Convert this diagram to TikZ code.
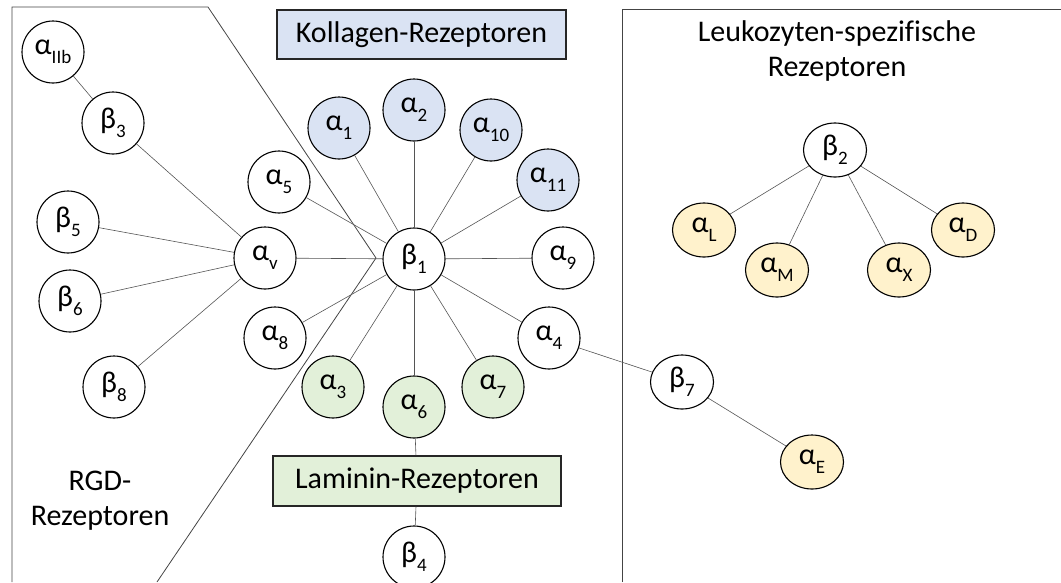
\documentclass[tikz,border=0pt]{standalone}
\usepackage{fontspec}
\setmainfont[Ligatures=NoCommon]{Carlito}
\usetikzlibrary{shapes.geometric}
\definecolor{kblue}{HTML}{DAE3F3}
\definecolor{lgreen}{HTML}{E2F0D9}
\definecolor{lyellow}{HTML}{FFF2CC}
\definecolor{edgec}{HTML}{555555}
\newcommand\lw[1]{\raisebox{-0.65ex}{\fontsize{19}{19}\selectfont #1}}
\begin{document}
\begin{tikzpicture}[x=1pt,y=-1pt,
  rc/.style={circle,draw=black,line width=1.1pt,minimum size=62pt,inner sep=0pt,fill=white,font=\fontsize{30}{30}\selectfont},
  re/.style={ellipse,draw=black,line width=1.1pt,minimum width=63pt,minimum height=54pt,inner sep=0pt,fill=white,font=\fontsize{30}{30}\selectfont},
  bl/.style={fill=kblue},
  gr/.style={fill=lgreen},
  ye/.style={fill=lyellow},
  ed/.style={draw=edgec,line width=0.6pt},
  bnd/.style={draw=edgec!80!black,line width=0.8pt},
  lbox/.style={draw=black!85,line width=1.2pt,inner sep=0pt,font=\fontsize{30}{30}\selectfont},
  ttl/.style={font=\fontsize{30}{35}\selectfont,align=center}]
\useasboundingbox (0,0) rectangle (1061,582);
\clip (0,0) rectangle (1061,582);
% region boundaries
\coordinate (p1) at (12,582);
\coordinate (p2) at (12,7);
\coordinate (p3) at (208,7);
\coordinate (p4) at (376,258);
\coordinate (p5) at (157,582);
\draw[bnd] (p1) -- (p2) -- (p3) -- (p4) -- (p5);
\coordinate (q1) at (622,582);
\coordinate (q2) at (622,9);
\coordinate (q3) at (1061,9);
\draw[bnd] (q1) -- (q2) -- (q3);
% boxes
\node[lbox,fill=kblue,minimum width=289pt,minimum height=49pt] (kol) at (421.5,34.5) {Kollagen-Rezeptoren};
% nodes
\node[rc] (b1) at (414,259) {β\lw{1}};
\node[rc] (aIIb) at (53,52) {α\lw{IIb}};
\node[rc] (b3) at (113,123) {β\lw{3}};
\node[rc] (b5) at (68,222) {β\lw{5}};
\node[rc] (av) at (265,258) {α\lw{v}};
\node[rc] (b6) at (70,301) {β\lw{6}};
\node[rc] (b8) at (114,387) {β\lw{8}};
\node[rc] (a5) at (279,182) {α\lw{5}};
\node[rc,bl] (a1) at (339,128) {α\lw{1}};
\node[rc,bl] (a2) at (414,110) {α\lw{2}};
\node[rc,bl] (a10) at (491,130) {α\lw{10}};
\node[rc,bl] (a11) at (548,180) {α\lw{11}};
\node[rc] (a9) at (563,258) {α\lw{9}};
\node[rc] (a4) at (549,338) {α\lw{4}};
\node[rc,gr] (a7) at (493,387) {α\lw{7}};
\node[rc,gr] (a6) at (414,407) {α\lw{6}};
\node[rc,gr] (a3) at (333,387) {α\lw{3}};
\node[rc] (a8) at (275,338) {α\lw{8}};
\node[rc] (b4) at (414,557) {β\lw{4}};
\node[lbox,fill=lgreen,minimum width=288pt,minimum height=50pt] (lam) at (417,481) {Laminin-Rezeptoren};
\node[re] (b2) at (835,150) {β\lw{2}};
\node[re,ye] (aL) at (704,230) {α\lw{L}};
\node[re,ye] (aM) at (777,270) {α\lw{M}};
\node[re,ye] (aX) at (899,270) {α\lw{X}};
\node[re,ye] (aD) at (963,230) {α\lw{D}};
\node[re] (b7) at (682,382) {β\lw{7}};
\node[re,ye] (aE) at (812,462) {α\lw{E}};
% labels
\node[ttl] (leu) at (837,51) {Leukozyten-spezifische\\Rezeptoren};
\node[ttl] (rgd) at (100,501) {RGD-\\Rezeptoren};
% edges
\draw[ed] (aIIb) -- (b3);
\draw[ed] (b3) -- (av);
\draw[ed] (b5) -- (av);
\draw[ed] (b6) -- (av);
\draw[ed] (b8) -- (av);
\draw[ed] (av) -- (b1);
\foreach \n in {a5,a1,a2,a10,a11,a9,a4,a7,a6,a3,a8}{\draw[ed] (b1) -- (\n);}
\draw[ed] (a4) -- (b7);
\draw[ed] (b7) -- (aE);
\draw[ed] (a6) -- (lam);
\draw[ed] (lam) -- (b4);
\foreach \n in {aL,aM,aX,aD}{\draw[ed] (b2) -- (\n);}
\end{tikzpicture}
\end{document}
